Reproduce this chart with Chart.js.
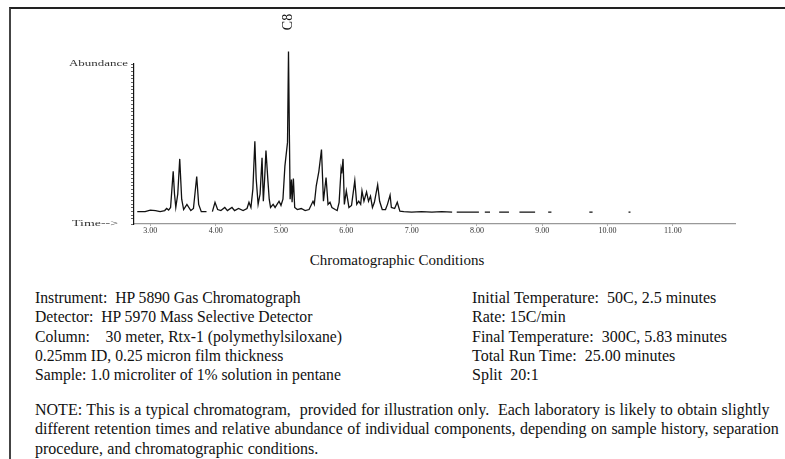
<!DOCTYPE html>
<html><head><meta charset="utf-8">
<script src="https://cdn.jsdelivr.net/npm/chart.js@4.4.0/dist/chart.umd.min.js"></script>
<style>
html,body{margin:0;padding:0;background:#fff;width:785px;height:459px;overflow:hidden;}
#frame{position:absolute;left:9px;top:7px;width:776px;height:452px;border-top:2px solid #222;border-left:2px solid #444;box-sizing:border-box;}
#c{position:absolute;left:0;top:0;}
.t{position:absolute;font-family:"Liberation Serif","Times New Roman",serif;font-size:16px;color:#111;white-space:pre;line-height:19.3px;}
</style></head><body>
<div id="frame"></div>
<canvas id="c" width="785" height="245"></canvas>
<div class="t" style="left:0;width:794px;text-align:center;top:251px;font-size:15px;">Chromatographic Conditions</div>
<div class="t" style="left:35px;top:288px;font-size:15.7px;">Instrument:  HP 5890 Gas Chromatograph
Detector:  HP 5970 Mass Selective Detector
Column:    30 meter, Rtx-1 (polymethylsiloxane)
0.25mm ID, 0.25 micron film thickness
Sample: 1.0 microliter of 1% solution in pentane</div>
<div class="t" style="left:472px;top:288px;">Initial Temperature:  50C, 2.5 minutes
Rate: 15C/min
Final Temperature:  300C, 5.83 minutes
Total Run Time:  25.00 minutes
Split  20:1</div>
<div class="t" style="left:35px;top:400px;word-spacing:0.4px;">NOTE: This is a typical chromatogram,  provided for illustration only.  Each laboratory is likely to obtain slightly
different retention times and relative abundance of individual components, depending on sample history, separation
procedure, and chromatographic conditions.</div>
<script>
// Retention time (minutes)
const times = [
  2.80, 2.92, 3.00, 3.08, 3.15, 3.22, 3.25, 3.28, 3.31, 3.35, 3.37, 3.39, 3.42, 3.45, 3.48, 3.51,
  3.56, 3.62, 3.66, 3.71, 3.74, 3.78, 3.86, 3.90, 3.95, 3.99, 4.03, 4.08, 4.14, 4.18, 4.25, 4.29,
  4.35, 4.42, 4.48, 4.51, 4.54, 4.57, 4.60, 4.62, 4.65, 4.68, 4.71, 4.73, 4.75, 4.77, 4.80, 4.82,
  4.84, 4.88, 4.91, 4.97, 5.00, 5.03, 5.06, 5.10, 5.115, 5.13, 5.14, 5.16, 5.17, 5.19, 5.21, 5.25,
  5.31, 5.37, 5.43, 5.49, 5.51, 5.54, 5.58, 5.62, 5.64, 5.65, 5.69, 5.72, 5.75, 5.78, 5.83, 5.86,
  5.89, 5.92, 5.93, 5.95, 5.97, 6.00, 6.04, 6.08, 6.13, 6.16, 6.19, 6.22, 6.24, 6.27, 6.31, 6.34,
  6.37, 6.40, 6.43, 6.48, 6.51, 6.55, 6.60, 6.63, 6.67, 6.69, 6.74, 6.78, 6.82, 6.88, 7.00, 7.15,
  7.31, 7.46, 7.62, 7.65, 7.69, 8.03, 8.07, 8.12, 8.20, 8.27, 8.34, 8.49, 8.57, 8.65, 8.89, 9.00,
  9.09, 9.14, 9.40, 9.72, 9.77, 10.00, 10.32, 10.35
];
// Relative abundance (%), null = gap in the trace
const abundance = [
  0, 0, 1.0, 0.7, 0, 0.7, 2.1, 1.0, 2.8, 27.3, 11.9, 2.8, 11.9, 35.7, 8.4, 1.4,
  4.9, 0.7, 2.1, 23.8, 4.9, 0, 0, null, 0, 6.3, 1.4, 0.7, 2.8, 0.7, 2.8, 0.7,
  2.1, 0.7, 2.1, 6.3, 2.8, 15.4, 47.6, 22.4, 4.9, 11.9, 36.4, 7.0, 22.4, 41.3, 21.0, 8.4,
  2.8, 4.9, 2.8, 7.0, 4.2, 8.4, 30.8, 46.9, 108.4, 46.9, 8.4, 21.7, 6.3, 22.4, 2.8, 1.4,
  2.1, 0.7, 1.4, 7.0, 4.9, 17.5, 27.3, 42.0, 18.9, 7.0, 23.1, 4.9, 6.3, 2.8, 1.4, 0.7,
  6.3, 28.7, 25.9, 35.7, 4.9, 14.0, 2.8, 4.2, 21.0, 4.9, 7.0, 4.9, 14.0, 7.0, 13.3, 7.0,
  10.5, 2.8, 6.3, 18.2, 7.0, 1.4, 1.4, 4.9, 11.2, 2.8, 2.1, 6.3, 0.3, 0, -0.3, 0,
  -0.3, 0, -0.3, null, -0.3, -0.3, null, -0.3, -0.3, null, -0.3, -0.3, null, -0.3, -0.3, null,
  -0.3, -0.3, null, -0.3, -0.3, null, -0.3, -0.3
];
const xTickValues = [3, 4, 5, 6, 7, 8, 9, 10, 11];
const xMin = 2.75, xMax = 11.95;
const yMin = -8.4, yMax = 100;
const peakName = 'C8';
const peakTime = 5.115;

const points = times.map((t, i) => ({x: t, y: abundance[i]}));

function fitText(ctx, text, right, cy, width) {
  const w = ctx.measureText(text).width;
  ctx.save();
  ctx.translate(right - width, cy);
  ctx.scale(width / w, 1);
  ctx.textAlign = 'left';
  ctx.fillText(text, 0, 0);
  ctx.restore();
}

const annot = {
  id: 'annot',
  afterDraw(chart) {
    const {ctx, scales: {x, y}} = chart;
    ctx.save();
    ctx.fillStyle = '#333';
    ctx.textBaseline = 'middle';
    ctx.font = '9px "Liberation Serif"';
    fitText(ctx, 'Abundance', x.left - 6, y.getPixelForValue(yMax), 59);
    fitText(ctx, 'Time-->', x.left - 16, y.bottom, 46);
    const px = x.getPixelForValue(peakTime);
    ctx.translate(px, 22);
    ctx.rotate(-Math.PI / 2);
    ctx.font = '14px "Liberation Serif"';
    ctx.fillStyle = '#111';
    ctx.textAlign = 'center';
    ctx.fillText(peakName, 0, 0);
    ctx.restore();
  }
};

new Chart(document.getElementById('c'), {
  type: 'line',
  data: {datasets: [{
    data: points,
    borderColor: '#111',
    borderWidth: 1.3,
    pointRadius: 0,
    tension: 0,
    spanGaps: false,
    clip: false
  }]},
  options: {
    responsive: false,
    animation: false,
    devicePixelRatio: 1,
    layout: {padding: {left: 130, right: 50, top: 64, bottom: 5}},
    plugins: {legend: {display: false}, tooltip: {enabled: false}},
    scales: {
      x: {
        type: 'linear', min: xMin, max: xMax,
        afterFit: s => { s.height = 16; },
        afterBuildTicks: s => { s.ticks = xTickValues.map(v => ({value: v})); },
        border: {display: true, color: '#999', width: 1.2, dash: [14, 4]},
        grid: {display: true, drawOnChartArea: false, drawTicks: true, tickLength: 2, color: '#aaa'},
        ticks: {
          autoSkip: false, maxRotation: 0, padding: 0,
          color: '#333', font: {family: 'Liberation Serif', size: 8},
          callback: v => Number(v).toFixed(2)
        }
      },
      y: {
        type: 'linear', min: yMin, max: yMax,
        afterFit: s => { s.width = 4; },
        border: {display: true, color: '#111', width: 1.2},
        grid: {display: true, drawOnChartArea: false, drawTicks: true, tickLength: 3, color: '#666'},
        ticks: {stepSize: 2.5, autoSkip: false, callback: () => '', padding: 0}
      }
    }
  },
  plugins: [annot]
});
</script>
</body></html>
